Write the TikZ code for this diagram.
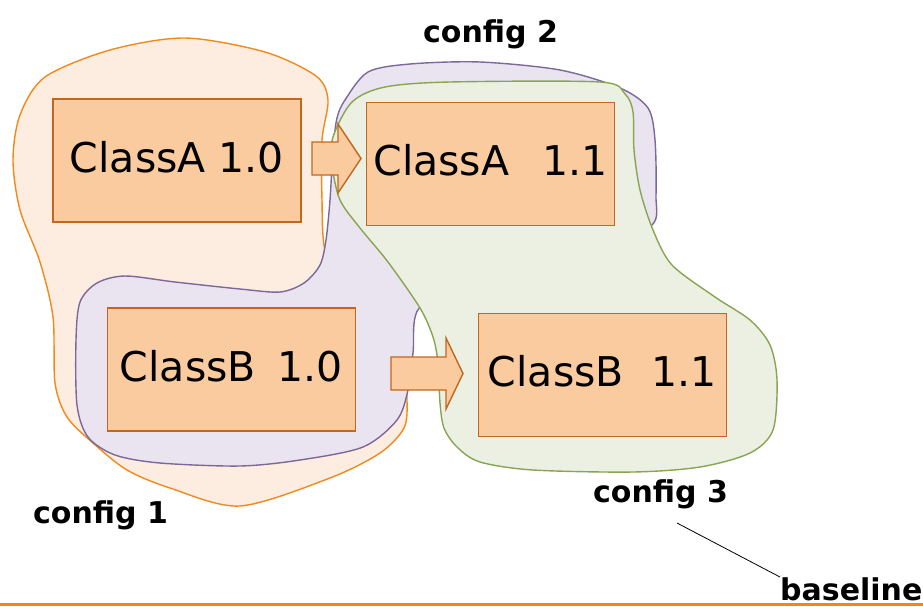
\documentclass[tikz,border=0pt]{standalone}
\usepackage{fontspec}
\setmainfont{DejaVu Sans}
\definecolor{boxfill}{HTML}{FBCBA0}
\definecolor{boxline}{HTML}{BF681E}
\definecolor{orfill}{HTML}{FDEDE1}
\definecolor{orline}{HTML}{F08A1C}
\definecolor{pufill}{HTML}{E9E4F0}
\definecolor{puline}{HTML}{7C689A}
\definecolor{grfill}{HTML}{EBF0E2}
\definecolor{grline}{HTML}{89A452}
\definecolor{basecol}{HTML}{F5841F}
\begin{document}
\begin{tikzpicture}[x=1pt,y=-1pt,
  box/.style={draw=boxline, fill=boxfill, line width=1.8pt, minimum width=248pt,
    minimum height=123pt, inner sep=0pt, text depth=8pt, font=\fontsize{41}{48}\selectfont},
  lbl/.style={font=\fontsize{30}{36}\selectfont\bfseries, anchor=base west, inner sep=0pt},
  blob/.style={line width=1.4pt},
  blockarrow/.style={draw=boxline, fill=boxfill, line width=1.4pt, line join=miter}]
\useasboundingbox (0,0) rectangle (923,606);
% config 1 (orange)
\draw[blob, draw=orline, fill=orfill] plot[smooth cycle, tension=0.5] coordinates {
  (185,38) (265,52) (316,76) (328,100) (322,140) (322,200) (325,250) (345,295)
  (385,335) (403,370) (407,400) (404,428) (380,453) (330,478) (240,506) (170,488)
  (127,470) (93,443) (67,417) (55,383) (53,317) (40,262) (20,210) (13,160)
  (20,115) (45,77) (110,50)};
% config 2 (purple)
\draw[blob, draw=puline, fill=pufill] plot[smooth cycle, tension=0.5] coordinates {
  (345,100) (368,72) (410,64) (480,62) (560,70) (620,88) (648,108) (655,140)
  (656,195) (652,225) (600,250) (480,285) (420,307) (413,353) (408,390) (397,420)
  (363,447) (300,460) (240,466) (160,463) (115,455) (88,437) (77,405) (76,340)
  (80,302) (97,283) (125,276) (175,282) (240,289) (280,292) (304,283) (320,265)
  (326,240) (330,200) (333,150) (337,118)};
% config 3 (green)
\draw[blob, draw=grline, fill=grfill] plot[smooth cycle, tension=0.5] coordinates {
  (333,137) (332,165) (340,200) (360,228) (388,262) (420,308) (433,337) (438,363)
  (440,403) (444,428) (457,447) (480,462) (533,470) (633,472) (700,467) (750,453)
  (773,430) (777,380) (770,345) (750,320) (715,297) (672,265) (653,230) (640,190)
  (634,150) (633,112) (625,94) (600,82) (450,82) (385,87) (352,102)};
% boxes
\node[box] (a10) at (177,160.5) {ClassA 1.0};
\node[box] (a11) at (490.5,164) {ClassA\hspace{33pt}1.1};
\node[box] (b10) at (231.5,369.5) {ClassB\hspace{22pt}1.0};
\node[box] (b11) at (602.5,375) {ClassB\hspace{28pt}1.1};
% block arrows
\draw[blockarrow] (312,142) -- (338,142) -- (338,124) -- (361,158.5) -- (338,193)
  -- (338,175) -- (312,175) -- cycle;
\draw[blockarrow] (391,357) -- (446,357) -- (446,338) -- (463,373.5) -- (446,409)
  -- (446,390) -- (391,390) -- cycle;
% labels
\node[lbl] (c2) at (423,42) {config 2};
\node[lbl] (c1) at (33,523) {config 1};
\node[lbl] (c3) at (593,502) {config 3};
% baseline
\draw[basecol, line width=3pt] (0,604) -- (923,604);
\node[lbl] (bl) at (780,600) {baseline};
\coordinate (cs) at (677,523);
\draw[black, line width=0.8pt] (cs) -- (bl.north west);
\end{tikzpicture}
\end{document}
